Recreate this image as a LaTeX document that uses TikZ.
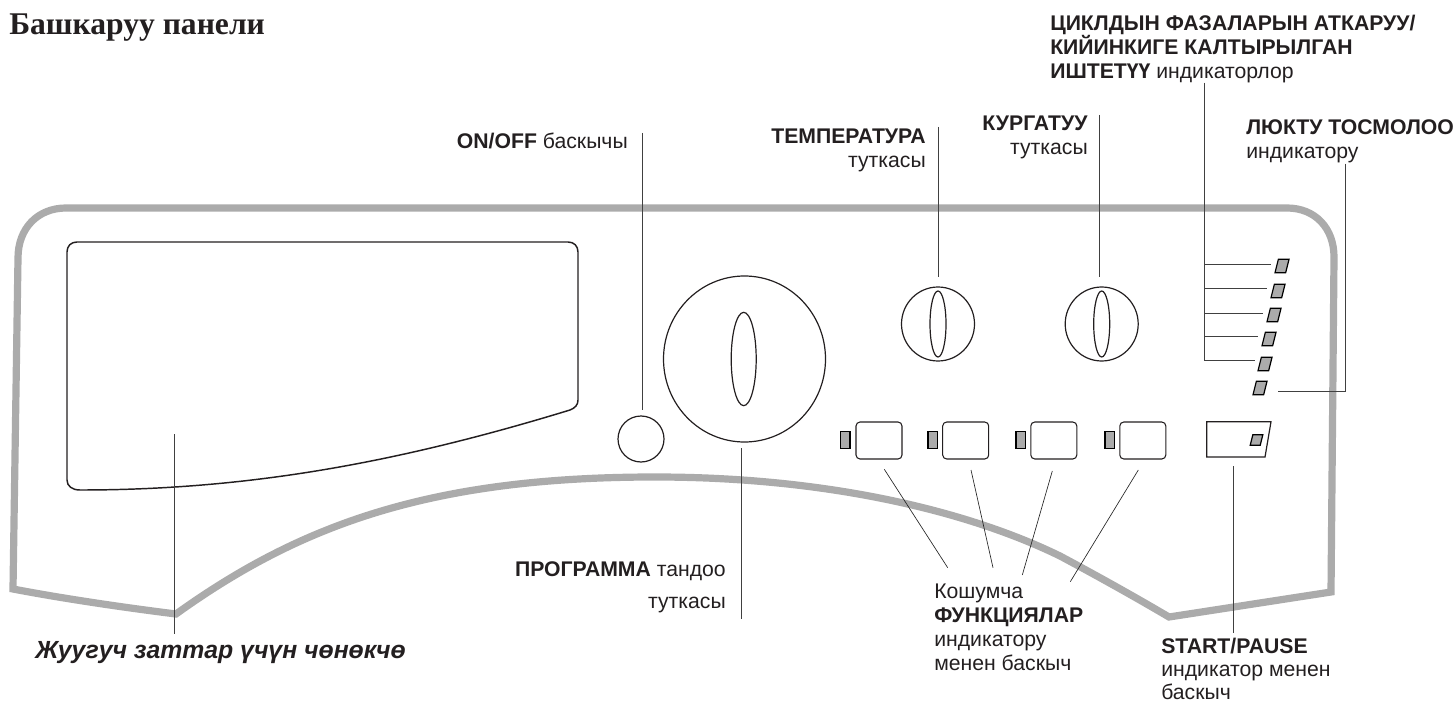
\documentclass[tikz,border=0pt]{standalone}
\usepackage{fontspec}
\usepackage{tikz}
\usetikzlibrary{positioning, calc, shapes.geometric}
\setmainfont{Liberation Sans}
\newfontfamily\titlefont{Liberation Serif}
\definecolor{PanelGray}{HTML}{ABABAB}
\definecolor{InkDark}{HTML}{231F20}
\tikzset{
    label/.style={inner sep=0pt, text=InkDark, font=\fontsize{15.9}{18}\selectfont},
    leader/.style={draw=black!75, line width=0.75pt},
    knob/.style={draw=InkDark, ellipse, line width=0.9pt, inner sep=0pt},
    btn/.style={draw=InkDark, line width=0.8pt, rounded corners=3pt, minimum width=34.5pt, minimum height=27.75pt, inner sep=0pt},
    led/.style={draw=black, fill=PanelGray, line width=1.1pt, minimum width=7pt, minimum height=12.5pt, inner sep=0pt},
    phaseled/.style={draw=black, fill=PanelGray, line width=0.9pt, minimum width=8pt, minimum height=10pt, inner sep=0pt, xslant=0.25, transform shape}
}

\begin{document}
\begin{tikzpicture}[x=0.75pt, y=-0.75pt]
    \useasboundingbox (0,0) rectangle (1456,702);

    % Panel outline
    \draw[PanelGray, line width=5.4pt, line join=miter]
        (66,208) -- (1287,208)
        .. controls (1315,208) and (1334,228) .. (1334,257)
        -- (1331,592) -- (1169,617)
        .. controls (1130,594) and (1090,572) .. (1060,556)
        .. controls (970,512) and (830,477) .. (655,477)
        .. controls (430,477) and (300,525) .. (176,614)
        .. controls (120,607) and (60,598) .. (13,589)
        -- (18,258)
        .. controls (18,228) and (38,208) .. (66,208) -- cycle;

    % Drawer window
    \draw[InkDark, line width=1.1pt]
        (67,252) .. controls (67,246) and (71,242) .. (77,242)
        -- (568,242) .. controls (574,242) and (578,246) .. (578,252)
        -- (578,400) .. controls (578,405) and (575,408) .. (570,410)
        .. controls (400,462) and (250,490) .. (80,490)
        .. controls (72,490) and (67,486) .. (67,480) -- cycle;

    % Knobs
    \node[knob, minimum width=121.5pt, minimum height=124.5pt] (programKnob) at (744.5,359) {};
    \node[knob, minimum width=18.75pt, minimum height=70pt] (programGrip) at (743.7,359) {};
    \node[knob, minimum width=34.5pt, minimum height=34.5pt] (onoffKnob) at (641,439) {};
    \foreach \name/\x in {temp/938, dry/1101.7} {
        \node[knob, minimum width=54.75pt, minimum height=55.5pt] (\name Knob) at (\x,324) {};
        \node[knob, minimum width=12pt, minimum height=49.5pt] (\name Grip) at (\x,324) {};
    }

    % Buttons with their lamps
    \foreach \n/\x/\lx in {1/879/845.3, 2/965.7/932.7, 3/1053.8/1020.8, 4/1142.8/1109.8} {
        \node[btn] (btn\n) at (\x,440.5) {};
        \node[led] (lamp\n) at (\lx,440) {};
    }

    % Start button
    \draw[InkDark, line width=0.9pt] (1206.7,421.7) -- (1271,421.7) -- (1265,457) -- (1206.7,457) -- cycle;
    \node[phaseled, minimum width=7.5pt, minimum height=8pt] (startLed) at (1256.5,440) {};

    % Phase lamps
    \foreach \n/\x/\y in {1/1282/266, 2/1278/291, 3/1274/315, 4/1269/339, 5/1265/364, 6/1260/388} {
        \node[phaseled] (phase\n) at (\x,\y) {};
    }

    % Texts
    \node[anchor=base west, inner sep=0pt, text=InkDark, font=\titlefont\bfseries\fontsize{23.7}{26}\selectfont] (title) at (9,35) {Башкаруу панели};
    \node[label, anchor=base east] (onoffText) at (628,149) {\textbf{ON/OFF} баскычы};
    \node[label, anchor=north east, align=right] (tempText) at (926,129) {\textbf{ТЕМПЕРАТУРА}\\туткасы};
    \node[label, anchor=north east, align=right] (dryText) at (1088,116) {\textbf{КУРГАТУУ}\\туткасы};
    \node[label, anchor=north west, align=left] (cycleText) at (1050,15) {\textbf{ЦИКЛДЫН ФАЗАЛАРЫН АТКАРУУ/}\\\textbf{КИЙИНКИГЕ КАЛТЫРЫЛГАН}\\\textbf{ИШТЕТҮҮ} индикаторлор};
    \node[label, anchor=north west, align=left] (doorText) at (1246,119) {\textbf{ЛЮКТУ ТОСМОЛОО}\\индикатору};
    \node[label, anchor=base east] (programText) at (726,576) {\textbf{ПРОГРАММА} тандоо};
    \node[label, anchor=base east] (programTextB) at (726,608) {туткасы};
    \node[label, anchor=north west, align=left] (funcText) at (934,584) {Кошумча\\\textbf{ФУНКЦИЯЛАР}\\индикатору\\менен баскыч};
    \node[label, anchor=north west, align=left, font=\fontsize{15.9}{17.3}\selectfont] (startText) at (1161,637.5) {\textbf{START/PAUSE}\\индикатор менен\\баскыч};
    \node[label, anchor=base west, font=\bfseries\itshape\fontsize{18.6}{22}\selectfont] (drawerText) at (35,658) {Жуугуч заттар үчүн чөнөкчө};

    % Leader ends
    \coordinate (onoffTop) at (642.5,133);
    \coordinate (onoffEnd) at (642.5,410);
    \coordinate (tempTop) at (938.5,127);
    \coordinate (tempEnd) at (938.5,277);
    \coordinate (dryTop) at (1099.5,115);
    \coordinate (dryEnd) at (1099.5,277);
    \coordinate (programEnd) at (741.7,448);
    \coordinate (programBottom) at (741.7,619);
    \coordinate (drawerEnd) at (174.6,434);
    \coordinate (drawerBottom) at (174.6,634);
    \coordinate (startEnd) at (1233,466);
    \coordinate (startBottom) at (1233,633);
    \coordinate (cycleTop) at (1204.3,82.7);
    \coordinate (doorTop) at (1345,163.6);
    \coordinate (doorCorner) at (1345,391.7);
    \coordinate (doorEnd) at (1278,391.7);

    % Leaders
    \draw[leader] (onoffTop) -- (onoffEnd);
    \draw[leader] (tempTop) -- (tempEnd);
    \draw[leader] (dryTop) -- (dryEnd);
    \draw[leader] (programEnd) -- (programBottom);
    \draw[leader] (drawerEnd) -- (drawerBottom);
    \draw[leader] (startEnd) -- (startBottom);
    \draw[leader] (doorTop) -- (doorCorner) -- (doorEnd);

    % Phase leaders
    \coordinate (cycleBottom) at (1204.3,360);
    \draw[leader] (cycleTop) -- (cycleBottom);
    \foreach \n/\x/\y in {1/1270.7/264.7, 2/1267/288.3, 3/1263/313.3, 4/1258/336, 5/1255/360} {
        \coordinate (branch\n) at (\x,\y);
        \draw[leader] (cycleTop |- branch\n) -- (branch\n);
    }

    % Function leaders
    \foreach \n/\ax/\ay/\bx/\by in {1/884.3/469.3/947.7/567.7, 2/971/470/993/567.7, 3/1052.3/471/1022.3/575, 4/1138.3/470/1070.3/581.7} {
        \coordinate (funcA\n) at (\ax,\ay);
        \coordinate (funcB\n) at (\bx,\by);
        \draw[black!85, line width=0.5pt] (funcA\n) -- (funcB\n);
    }
\end{tikzpicture}
\end{document}
